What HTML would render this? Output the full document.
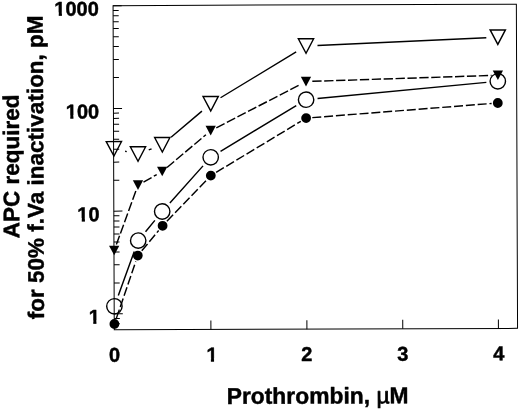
<!DOCTYPE html>
<html lang="en"><head><meta charset="utf-8"><title>APC required for 50% f.Va inactivation vs Prothrombin</title>
<style>html,body{margin:0;padding:0;background:#fff;}body{width:520px;height:409px;overflow:hidden;}svg{display:block}</style>
</head><body>
<svg width="520" height="409" viewBox="0 0 520 409">
<rect width="520" height="409" fill="#fff"/>
<g transform="rotate(-0.212 260.0 204.5)">
<path d="M113.8 5.1 H517.1 V329.3 H113.8 Z" fill="none" stroke="#000" stroke-width="1.0"/>
<path d="M113.8 313.30h8.6 M113.8 282.38h5.6 M113.8 264.30h5.6 M113.8 251.47h5.6 M113.8 241.52h5.6 M113.8 233.38h5.6 M113.8 226.51h5.6 M113.8 220.55h5.6 M113.8 215.30h5.6 M113.8 210.60h8.6 M113.8 179.68h5.6 M113.8 161.60h5.6 M113.8 148.77h5.6 M113.8 138.82h5.6 M113.8 130.68h5.6 M113.8 123.81h5.6 M113.8 117.85h5.6 M113.8 112.60h5.6 M113.8 107.90h8.6 M113.8 76.98h5.6 M113.8 58.90h5.6 M113.8 46.07h5.6 M113.8 36.12h5.6 M113.8 27.98h5.6 M113.8 21.11h5.6 M113.8 15.15h5.6 M113.8 9.90h5.6 M113.8 5.20h8.6 M113.8 323.25h5.6 M113.8 318.00h5.6 M210.45 329.3v-9 M306.45 329.3v-9 M402.30 329.3v-9 M497.95 329.3v-9" fill="none" stroke="#000" stroke-width="1.0"/>
<path d="M125.34 150.75L126.95 151.10 M148.95 149.50L151.76 148.44 M171.32 136.98L202.28 110.92 M220.93 97.60L296.73 52.09 M318.08 45.68L486.93 38.52" fill="none" stroke="#000" stroke-width="1.45"/>
<path d="M116.21 244.05L135.89 190.66 M143.57 181.67L156.83 174.22 M167.16 167.10L206.14 134.56 M216.58 127.65L300.84 84.59 M312.75 81.54L492.08 76.31" fill="none" stroke="#000" stroke-width="1.45" stroke-dasharray="9.3 2.6"/>
<path d="M117.98 294.96L134.11 250.95 M145.42 231.30L154.82 219.98 M169.88 202.60L203.17 165.66 M220.74 151.21L296.62 105.78 M317.94 98.81L486.80 83.24" fill="none" stroke="#000" stroke-width="1.45"/>
<path d="M115.99 317.60L135.58 261.01 M141.60 250.40L158.54 230.19 M166.83 220.98L206.60 179.87 M216.23 172.23L301.10 121.45 M312.60 117.81L491.99 104.34" fill="none" stroke="#000" stroke-width="1.45" stroke-dasharray="9 2.85"/>
<path d="M106.46 141.06h15.3l-7.65 14.5z" fill="none" stroke="#000" stroke-width="1.4" stroke-linejoin="miter"/>
<path d="M130.54 146.30h15.3l-7.65 14.5z" fill="none" stroke="#000" stroke-width="1.4" stroke-linejoin="miter"/>
<path d="M154.87 137.14h15.3l-7.65 14.5z" fill="none" stroke="#000" stroke-width="1.4" stroke-linejoin="miter"/>
<path d="M203.42 96.27h15.3l-7.65 14.5z" fill="none" stroke="#000" stroke-width="1.4" stroke-linejoin="miter"/>
<path d="M298.94 38.92h15.3l-7.65 14.5z" fill="none" stroke="#000" stroke-width="1.4" stroke-linejoin="miter"/>
<path d="M490.77 30.78h15.3l-7.65 14.5z" fill="none" stroke="#000" stroke-width="1.4" stroke-linejoin="miter"/>
<circle cx="114.02" cy="305.76" r="7.7" fill="none" stroke="#000" stroke-width="1.4"/>
<circle cx="138.07" cy="240.15" r="7.7" fill="none" stroke="#000" stroke-width="1.4"/>
<circle cx="162.17" cy="211.14" r="7.7" fill="none" stroke="#000" stroke-width="1.4"/>
<circle cx="210.87" cy="157.12" r="7.7" fill="none" stroke="#000" stroke-width="1.4"/>
<circle cx="306.49" cy="99.87" r="7.7" fill="none" stroke="#000" stroke-width="1.4"/>
<circle cx="498.25" cy="82.18" r="7.7" fill="none" stroke="#000" stroke-width="1.4"/>
<path d="M108.88 245.11h10.3l-5.15 9.7z" fill="#000"/>
<path d="M132.92 179.90h10.3l-5.15 9.7z" fill="#000"/>
<path d="M157.17 166.29h10.3l-5.15 9.7z" fill="#000"/>
<path d="M205.82 125.67h10.3l-5.15 9.7z" fill="#000"/>
<path d="M301.30 76.87h10.3l-5.15 9.7z" fill="#000"/>
<path d="M493.23 71.28h10.3l-5.15 9.7z" fill="#000"/>
<circle cx="113.96" cy="323.46" r="4.9" fill="#000"/>
<circle cx="137.61" cy="255.15" r="4.9" fill="#000"/>
<circle cx="162.52" cy="225.44" r="4.9" fill="#000"/>
<circle cx="210.91" cy="175.42" r="4.9" fill="#000"/>
<circle cx="306.42" cy="118.27" r="4.9" fill="#000"/>
<circle cx="498.17" cy="103.88" r="4.9" fill="#000"/>
<g font-family="'Liberation Sans', Arial, Helvetica, sans-serif" font-weight="bold" fill="#000" stroke="#000" stroke-width="0.45" stroke-linejoin="round">
<text x="99.5" y="15.0" text-anchor="end" font-size="20.0">1000</text>
<text x="99.5" y="117.9" text-anchor="end" font-size="20.0">100</text>
<text x="99.5" y="220.7" text-anchor="end" font-size="20.0">10</text>
<text x="99.5" y="323.1" text-anchor="end" font-size="20.0">1</text>
<text x="114.1" y="361.2" text-anchor="middle" font-size="20.0">0</text>
<text x="211.43" y="361.2" text-anchor="middle" font-size="20.0">1</text>
<text x="306.15" y="361.2" text-anchor="middle" font-size="20.0">2</text>
<text x="402.18" y="361.2" text-anchor="middle" font-size="20.0">3</text>
<text x="498.2" y="361.2" text-anchor="middle" font-size="20.0">4</text>
<text x="316.9" y="403.8" text-anchor="middle" font-size="22.85">Prothrombin, <tspan font-weight="normal" stroke-width="0.75">µ</tspan>M</text>
<text transform="translate(19.2 165.4) rotate(-90)" text-anchor="middle" font-size="22.5">APC required</text>
<text transform="translate(43.5 166.5) rotate(-90)" text-anchor="middle" font-size="22.5">for 50% f.Va inactivation, pM</text>
</g>
<g fill="#fff">
<rect x="54.67" y="11.78" width="4.78" height="4.77"/>
<rect x="62.65" y="11.78" width="4.32" height="4.77"/>
<rect x="65.79" y="114.68" width="4.78" height="4.77"/>
<rect x="73.77" y="114.68" width="4.32" height="4.77"/>
<rect x="76.91" y="217.48" width="4.78" height="4.77"/>
<rect x="84.90" y="217.48" width="4.32" height="4.77"/>
<rect x="88.04" y="319.88" width="4.78" height="4.77"/>
<rect x="96.02" y="319.88" width="4.32" height="4.77"/>
<rect x="205.53" y="357.98" width="4.78" height="4.77"/>
<rect x="213.51" y="357.98" width="4.32" height="4.77"/>
</g>
</g>
</svg>
</body></html>
